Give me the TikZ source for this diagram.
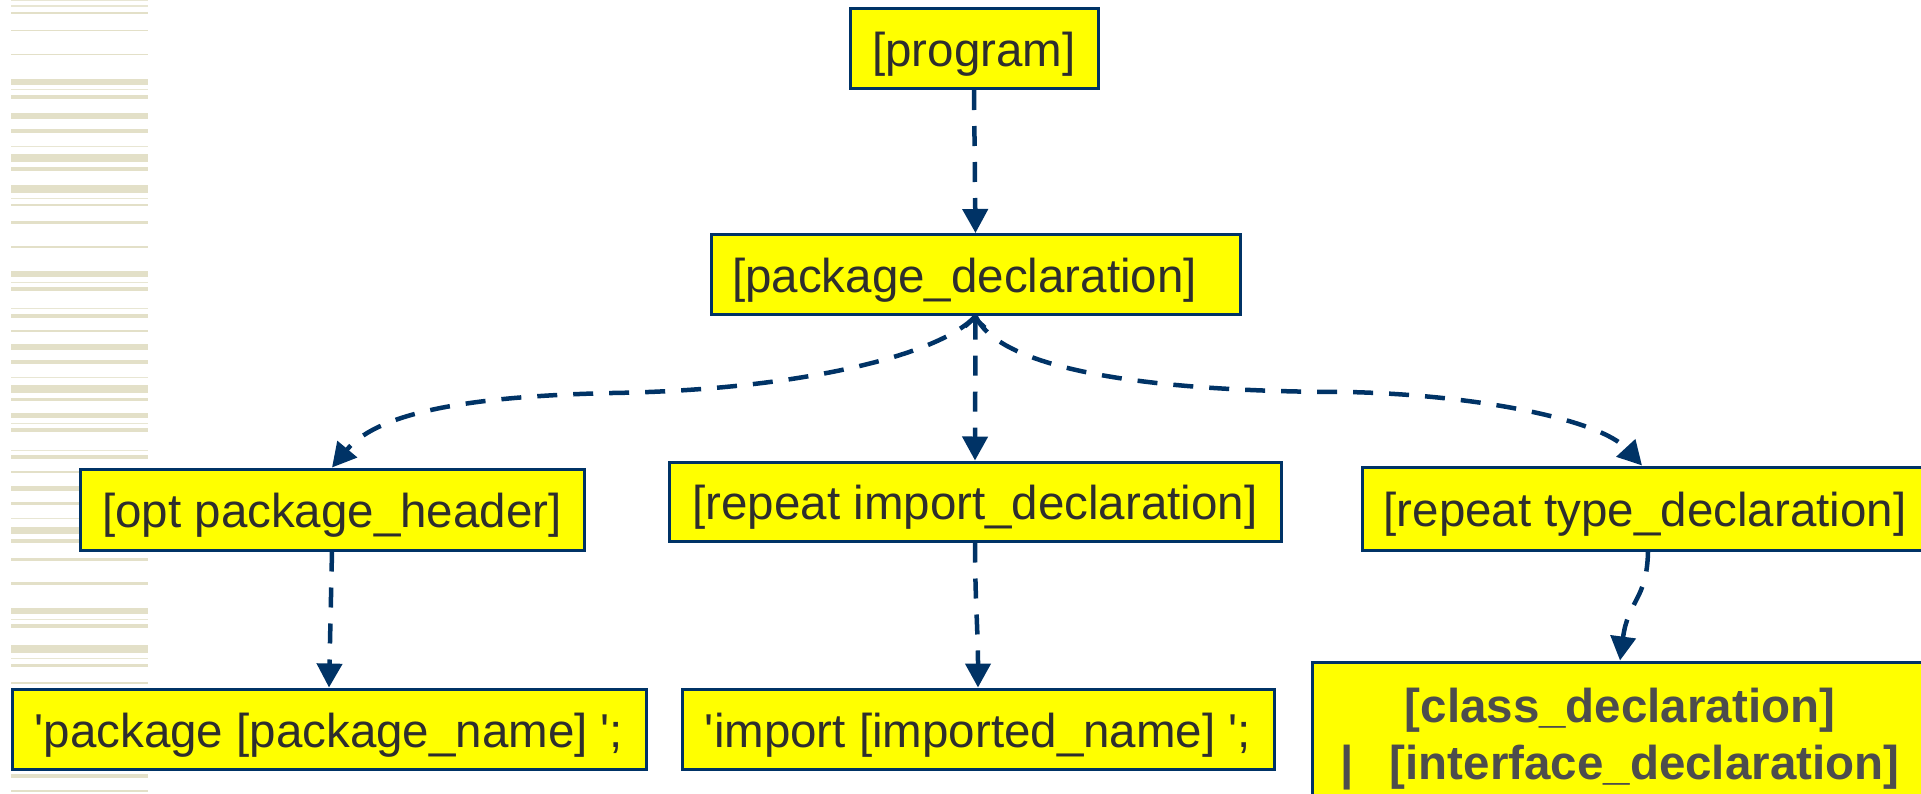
\documentclass[tikz,border=0pt]{standalone}
\usepackage{fontspec}
\setmainfont{Liberation Sans}
\usetikzlibrary{arrows.meta}
\definecolor{navy}{HTML}{003366}
\definecolor{boxyellow}{HTML}{FFFF00}
\definecolor{txt}{HTML}{2E2E2E}
\definecolor{btxt}{HTML}{4D4D4D}
\definecolor{stripe}{HTML}{E3E0C8}
\definecolor{stripelight}{HTML}{E8E6D3}
\begin{document}
\begin{tikzpicture}[x=1pt,y=-1pt,
 box/.style={draw=navy, line width=3pt, fill=boxyellow, text=txt,
   font=\fontsize{47.5}{51}\selectfont, inner sep=0pt, minimum height=80pt},
 onebox/.style={box, text height=46.6pt, text depth=10.1pt},
 conn/.style={navy, line width=4.5pt, dash pattern=on 20pt off 16pt,
   -{Triangle[width=25pt,length=24pt]}},
]
\useasboundingbox (0,0) rectangle (1921,793);
% decorative stripes
\foreach \a/\b in {12/13.7,29.7/31.3,53.7/55.3,79.3/84.7,95.3/98.7,113.3/118.7,129.3/132.7,
  154/161.7,167.3/170.7,185.3/192.7,203.7/206.3,221.3/224,245.7/248.3,271/277,287/291,
  313.7/317.7,329.7/332.3,344/350,360/364,385/392.7,398/400.5,412.7/418.3,428/432,455.3/459.3,
  470.7/473.3,485.7/491,501.7/505.3,526.7/534,539.3/543,558.3/561,582.3/585,608/613.7,
  624/627.7,645.3/653,663.7/666.7,681.7/684,774/778.3,789.7/792.3}
  \fill[stripe] (11.3,\a) rectangle (147.7,\b);
\foreach \a/\b in {0/1,5/6.5,89.3/90.3,145.7/146.7,197.7/199,281.7/282.7,308.3/309.3,
  376.7/377.7,423.3/424.3,450/450.8,517.7/518.7,618.7/619.7,657.8/658.8}
  \fill[stripelight] (11,\a) rectangle (148.3,\b);
% nodes
\node[onebox, minimum width=248pt] (prog) at (974,48.5) {[program]};
\node[onebox, minimum width=529pt] (pd) at (975.5,274.5) {[package\_declaration]\rule{22pt}{0pt}};
\node[onebox, minimum width=504pt, minimum height=81pt] (oph) at (332,509.5) {[opt package\_header]};
\node[onebox, minimum width=612pt, minimum height=79pt] (rid) at (975,501.5) {[repeat import\_declaration]};
\node[onebox, minimum width=566pt, minimum height=83pt] (rtd) at (1645,508.5) {[repeat type\_declaration]};
\node[onebox, minimum width=634pt] (pkg) at (329,729) {\textquotesingle package [package\_name] \textquotesingle;};
\node[onebox, minimum width=592pt] (imp) at (978,729) {\textquotesingle import [imported\_name] \textquotesingle;};
\node[box, minimum width=616pt, minimum height=154pt, align=center, text=btxt,
  font=\fontsize{47.5}{57.5}\selectfont\bfseries] (cls) at (1620,739)
  {[class\_declaration]\\|\hspace{36pt}[interface\_declaration]};
% connectors
\draw[conn] (prog.south) -- (pd.north);
\draw[conn] (pd.south) .. controls (940,355) and (800,390) .. (612,393)
  .. controls (480,396) and (380,410) .. (oph.north);
\draw[conn] (pd.south) .. controls (1000,370) and (1150,392) .. (1348,392)
  .. controls (1480,395) and (1600,420) .. ([xshift=-3pt]rtd.north);
\draw[conn, {Straight Barb[length=9pt,width=20pt,line width=3pt]}-{Triangle[width=25pt,length=24pt]}]
  (pd.south) -- (rid.north);
\draw[conn] (oph.south) -- (pkg.north);
\draw[conn] (rid.south) .. controls (975,600) and (978,630) .. (imp.north);
\draw[conn] ([xshift=3pt]rtd.south) .. controls (1647,600) and (1628,600) .. (cls.north);
\end{tikzpicture}
\end{document}
